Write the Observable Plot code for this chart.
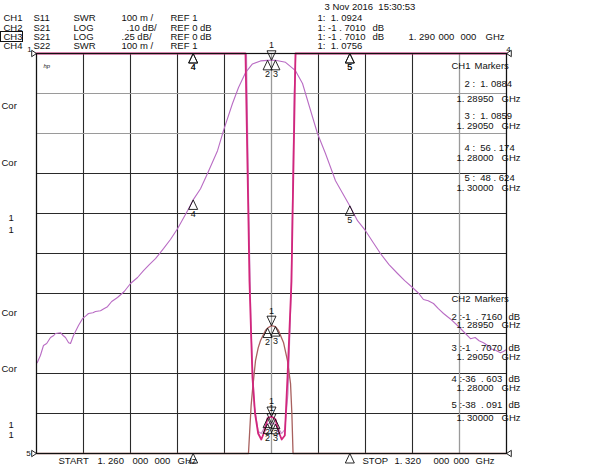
<!DOCTYPE html>
<html><head><meta charset="utf-8">
<script src="https://cdn.jsdelivr.net/npm/d3@7"></script>
<script src="https://cdn.jsdelivr.net/npm/@observablehq/plot@0.6"></script>
<style>html,body{margin:0;padding:0;background:#fff}svg{display:block}</style>
</head><body><div id="chart"></div>
<script>
// ---------- data ----------
// CH2: S21 LOG 10 dB/div, REF 0 dB at top
const ch2Freq = [1.26009,1.26050,1.26089,1.26130,1.26179,1.26220,1.26243,1.26306,1.26340,1.26370,1.26410,1.26434,1.26472,1.26536,1.26587,1.26630,1.26664,1.26720,1.26753,1.26817,1.26860,1.26906,1.26960,1.27034,1.27120,1.27200,1.27290,1.27366,1.27440,1.27519,1.27621,1.27710,1.27800,1.27928,1.28000,1.28094,1.28183,1.28311,1.28387,1.28502,1.28579,1.28668,1.28757,1.28860,1.28950,1.29000,1.29050,1.29179,1.29306,1.29396,1.29472,1.29587,1.29689,1.29817,1.30000,1.30098,1.30200,1.30300,1.30391,1.30500,1.30609,1.30700,1.30800,1.30880,1.30940,1.31000,1.31068,1.31130,1.31196,1.31280,1.31374,1.31450,1.31540,1.31600,1.31650,1.31706,1.31760,1.31796,1.31860,1.31923,1.31960,1.32000];
const ch2dB = [-77.3,-75.5,-73.0,-72.5,-71.0,-70.5,-70.0,-69.8,-70.5,-71.0,-72.3,-72.5,-70.5,-68.0,-66.3,-65.6,-65.0,-64.8,-64.5,-64.3,-63.8,-63.3,-62.0,-61.0,-59.5,-57.5,-56.0,-54.3,-52.8,-51.3,-48.8,-46.5,-43.8,-39.3,-36.6,-33.8,-30.0,-24.3,-19.3,-12.5,-8.5,-4.8,-2.6,-1.85,-1.716,-1.701,-1.707,-2.2,-4.3,-7.5,-12.5,-20.0,-25.0,-31.8,-38.1,-41.8,-44.3,-47.3,-50.0,-52.8,-55.0,-56.8,-58.5,-60.0,-61.5,-61.8,-62.5,-63.8,-65.0,-66.3,-68.0,-69.5,-71.3,-71.0,-71.8,-72.3,-73.0,-73.8,-74.2,-74.8,-74.5,-74.0];
// CH3: S21 LOG 0.25 dB/div, REF 0 dB at top
const ch3Freq = [1.26000,1.28690,1.28706,1.28740,1.28757,1.28796,1.28830,1.28860,1.28923,1.28950,1.29000,1.29050,1.29089,1.29153,1.29204,1.29243,1.29260,1.29275,1.29290,1.32000];
const ch3dB = [-3.0,-3.0,-2.5,-2.2,-2.106,-1.919,-1.84,-1.794,-1.731,-1.716,-1.701,-1.707,-1.731,-1.806,-1.919,-2.063,-2.25,-2.5,-3.0,-3.0];
// CH1: S11 SWR 100 m/div, REF 1 at bottom
const ch1Freq = [1.26000,1.28000,1.28668,1.28706,1.28719,1.28757,1.28790,1.28830,1.28870,1.28910,1.28950,1.29000,1.29050,1.29090,1.29130,1.29170,1.29204,1.29255,1.29268,1.29306,1.32000];
const ch1Swr = [20,56.174,2.05,1.58,1.43,1.19,1.10,1.05,1.035,1.055,1.0884,1.0924,1.0859,1.055,1.035,1.045,1.19,1.43,1.58,2.05,20];
// CH4: S22 SWR 100 m/div, REF 1 at bottom
const ch4Freq = [1.26000,1.28000,1.28680,1.28710,1.28740,1.28780,1.28830,1.28870,1.28910,1.28950,1.29000,1.29050,1.29090,1.29130,1.29170,1.29210,1.29250,1.29290,1.29310,1.32000];
const ch4Swr = [20,30,2.2,1.6,1.3,1.12,1.055,1.05,1.065,1.074,1.0756,1.073,1.062,1.05,1.06,1.15,1.4,1.9,2.2,20];
// markers
const markerNames = ["1","2","3","4","5"];
const markerFreq = [1.29000,1.28950,1.29050,1.28000,1.30000];
const ch1Marker = [1.0924,1.0884,1.0859,56.174,48.624];
const ch2Marker = [-1.7010,-1.7160,-1.7070,-36.603,-38.091];
const ch3Marker = [-1.7010,-1.7160,-1.7070,-36.603,-38.091];
const ch4Marker = [1.0756,1.074,1.073,30,25];
// grid
const gridFreq = [1.260,1.266,1.272,1.278,1.284,1.290,1.296,1.302,1.308,1.314,1.320];
const gridDiv = [0,1,2,3,4,5,6,7,8,9,10];
const gridFreqLight = [1.290,1.314];
const gridDivLight = [8,9];

// ---------- helpers ----------
const clamp = v => Math.max(0, Math.min(10, v));
const swrDiv = v => clamp((v - 1) / 0.1);
const ch2Div = v => clamp(10 + v / 10);
const ch3Div = v => clamp(10 + v / 0.25);

const zip = (f, v, conv) => f.map((x, i) => ({x, y: conv(v[i])}));
const ch1 = zip(ch1Freq, ch1Swr, swrDiv);
const ch2 = zip(ch2Freq, ch2dB, ch2Div);
const ch3 = zip(ch3Freq, ch3dB, ch3Div);
const ch4 = zip(ch4Freq, ch4Swr, swrDiv);

const markers = [];
[[ch1Marker, swrDiv],[ch2Marker, ch2Div],[ch3Marker, ch3Div],[ch4Marker, swrDiv]].forEach(([vals, conv]) => {
  vals.forEach((v, i) => markers.push({x: markerFreq[i], y: conv(v), name: markerNames[i], active: i === 0}));
});
const activeMk = markers.filter(d => d.active);
const otherMk = markers.filter(d => !d.active);

// triangle symbols with the tip on the point
const triBelow = {draw(ctx, size){const r=Math.sqrt(size/Math.PI);ctx.moveTo(0,0);ctx.lineTo(r*0.9,r*1.9);ctx.lineTo(-r*0.9,r*1.9);ctx.closePath();}};
const triAbove = {draw(ctx, size){const r=Math.sqrt(size/Math.PI);ctx.moveTo(0,0);ctx.lineTo(r*0.9,-r*1.9);ctx.lineTo(-r*0.9,-r*1.9);ctx.closePath();}};
const triRight = {draw(ctx, size){const r=Math.sqrt(size/Math.PI);ctx.moveTo(0,0);ctx.lineTo(-r*1.2,-r*0.8);ctx.lineTo(-r*1.2,r*0.8);ctx.closePath();}};
const triLeft = {draw(ctx, size){const r=Math.sqrt(size/Math.PI);ctx.moveTo(0,0);ctx.lineTo(r*1.2,-r*0.8);ctx.lineTo(r*1.2,r*0.8);ctx.closePath();}};

// annotation layout (screen px -> chart units)
const L = 36, R = 506, T = 53, B = 453;
const fx = px => 1.26 + (px - L) / (R - L) * 0.06;
const fy = py => (B - py) / (B - T) * 10;
const t = (px, py, text) => ({x: fx(px), y: fy(py), text});

const header = [
  t(324,6,"3 Nov 2016  15:30:53"),
  t(3,17,"CH1"),t(33,17,"S11"),t(73,17,"SWR"),t(121,17,"100 m /"),t(170,17,"REF 1"),t(317,17,"1:  1. 0924"),
  t(3,27,"CH2"),t(33,27,"S21"),t(73,27,"LOG"),t(126,27,".10 dB/"),t(170,27,"REF 0 dB"),t(317,27,"1: -1 . 7010"),t(372,27,"dB"),
  t(3,36.5,"CH3"),t(33,36.5,"S21"),t(73,36.5,"LOG"),t(121,36.5,".25 dB/"),t(170,36.5,"REF 0 dB"),t(317,36.5,"1: -1 . 7010"),t(372,36.5,"dB"),
  t(408,36.5,"1. 290"),t(438,36.5,"000"),t(460,36.5,"000"),t(485,36.5,"GHz"),
  t(3,45,"CH4"),t(33,45,"S22"),t(73,45,"SWR"),t(121,45,"100 m /"),t(170,45,"REF 1"),t(317,45,"1:  1. 0756"),
  // CH1 marker panel
  t(451,65,"CH1"),t(474,65,"Markers"),
  t(464,83,"2 :  1. 0884"),t(456,98,"1. 28950"),t(501,98,"GHz"),
  t(464,115,"3 :  1. 0859"),t(456,125,"1. 29050"),t(501,125,"GHz"),
  t(464,147,"4 :  56 . 174"),t(456,157,"1. 28000"),t(501,157,"GHz"),
  t(464,177,"5 :  48 . 624"),t(456,187,"1. 30000"),t(501,187,"GHz"),
  // CH2 marker panel
  t(451,298,"CH2"),t(474,298,"Markers"),
  t(451,316,"2 :-1  . 7160"),t(508,316,"dB"),t(456,324,"1. 28950"),t(501,324,"GHz"),
  t(451,347,"3 :-1  . 7070"),t(508,347,"dB"),t(456,356,"1. 29050"),t(501,356,"GHz"),
  t(451,378,"4 :-36  . 603"),t(508,378,"dB"),t(456,387,"1. 28000"),t(501,387,"GHz"),
  t(451,404,"5 :-38  . 091"),t(508,404,"dB"),t(456,417,"1. 30000"),t(501,417,"GHz"),
  // left side
  t(1,105,"Cor"),t(1,162,"Cor"),t(8,217,"1"),t(8,229,"1"),
  t(1,312,"Cor"),t(1,368,"Cor"),t(8,424,"1"),t(8,434,"1"),
  // bottom
  t(58,460,"START"),t(97,460,"1. 260"),t(132,460,"000"),t(154,460,"000"),t(177,460,"GHz"),
  t(362,460,"STOP"),t(394,460,"1. 320"),t(433,460,"000"),t(453,460,"000"),t(475,460,"GHz")
];
const smallLabels = [t(29,49,"1"), t(508,49,"4"), t(28,453,"5")];

const dark = "#2a2a2a", light = "#9a9a9a";
const font = "Liberation Sans, Arial, sans-serif";

const chart = Plot.plot({
  width: 600, height: 464,
  marginLeft: L, marginRight: 600 - R, marginTop: T, marginBottom: 464 - B,
  x: {domain: [1.26, 1.32], axis: null},
  y: {domain: [0, 10], axis: null},
  style: {fontFamily: font, fontSize: "9px", background: "#fff", overflow: "visible"},
  marks: [
    Plot.ruleX(gridFreq, {stroke: dark, strokeWidth: 1.1}),
    Plot.ruleY(gridDiv, {stroke: dark, strokeWidth: 1.1}),
    Plot.ruleX(gridFreqLight, {stroke: light, strokeWidth: 1.1}),
    Plot.ruleY(gridDivLight, {stroke: light, strokeWidth: 1.1}),
    Plot.line(ch2, {x: "x", y: "y", stroke: "#b96cc4", strokeWidth: 1.1}),
    Plot.line(ch4, {x: "x", y: "y", stroke: "#c98fc9", strokeWidth: 1.2}),
    Plot.line(ch3, {x: "x", y: "y", stroke: "#a8605e", strokeWidth: 1.3}),
    Plot.line(ch1, {x: "x", y: "y", stroke: "#d2267c", strokeWidth: 1.8}),
    Plot.dot(otherMk, {x: "x", y: "y", symbol: triBelow, r: 5, stroke: "#111", fill: "none", strokeWidth: 0.9}),
    Plot.dot(activeMk, {x: "x", y: "y", symbol: triAbove, r: 5, stroke: "#111", fill: "none", strokeWidth: 0.9}),
    Plot.text(otherMk, {x: "x", y: "y", text: "name", dy: 14, fill: "#111", fontSize: 9}),
    Plot.text(activeMk, {x: "x", y: "y", text: "name", dy: -15, fill: "#111", fontSize: 9}),
    Plot.dot([{x: 1.26, y: 10}], {x: "x", y: "y", symbol: triRight, r: 4, stroke: "#111", fill: "none", strokeWidth: 0.9}),
    Plot.dot([{x: 1.32, y: 10}, {x: 1.32, y: 0}], {x: "x", y: "y", symbol: triLeft, r: 4, stroke: "#111", fill: "none", strokeWidth: 0.9}),
    Plot.dot([{x: 1.26, y: 0}], {x: "x", y: "y", symbol: triRight, r: 4, stroke: "#111", fill: "none", strokeWidth: 0.9}),
    Plot.text(smallLabels, {x: "x", y: "y", text: "text", fontSize: 8, fill: "#111"}),
    Plot.text(header, {x: "x", y: "y", text: "text", textAnchor: "start", fill: "#111", fontSize: 9.5}),
    Plot.text([t(43,66,"hp")], {x: "x", y: "y", text: "text", textAnchor: "start", fill: "#222", fontSize: 6, fontStyle: "italic"}),
    Plot.frame({stroke: "#111", strokeWidth: 1.2})
  ]
});
// box around CH3 (active channel)
d3.select(chart).append("rect")
  .attr("x", 0.5).attr("y", 31.5).attr("width", 22).attr("height", 10)
  .attr("fill", "none").attr("stroke", "#111").attr("stroke-width", 1);
document.getElementById("chart").appendChild(chart);
</script>
</body></html>
